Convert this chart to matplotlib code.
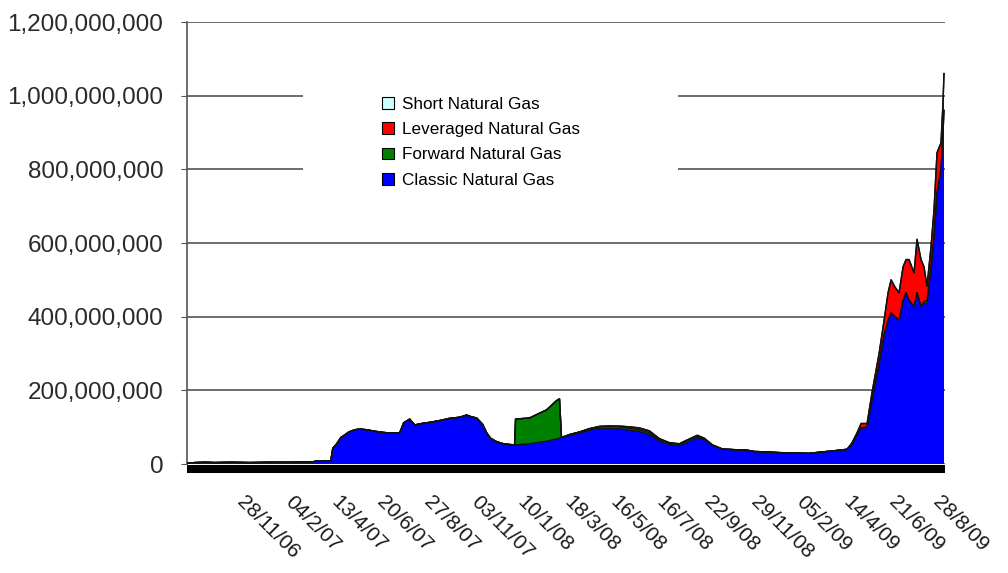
import numpy as np
import matplotlib
matplotlib.use("Agg")
import matplotlib.pyplot as plt
from matplotlib.patches import Rectangle
from matplotlib.ticker import FuncFormatter

plt.rcParams["font.family"] = ["Liberation Sans", "DejaVu Sans"]

# trading-day index of each sample (0 = first day of the series)
day = [0, 8, 18, 28, 43, 63, 83, 103, 113, 126, 131, 144, 146, 150, 154, 158,
       162, 168, 173, 180, 186, 193, 203, 213, 217, 223, 228, 235, 245, 253,
       263, 273, 280, 285, 290, 296, 300, 304, 309, 315, 323, 328, 329, 343,
       360, 370, 373, 375, 383, 393, 403, 413, 423, 433, 443, 453, 463, 473,
       483, 493, 503, 511, 518, 526, 536, 548, 560, 568, 580, 593, 608, 623,
       633, 648, 661, 666, 671, 675, 681, 686, 693, 698, 702, 705, 709, 713,
       717, 720, 723, 728, 731, 735, 738, 741, 745, 748, 751, 755, 757, 758]

# assets under management, millions
classic = [2, 4, 5, 4, 5, 4, 5, 5, 6, 6, 9, 9, 43, 55, 72, 79,
           87, 93, 95, 93, 90, 87, 84, 85, 112, 122, 106, 110, 114, 118,
           124, 127, 133, 128, 125, 108, 85, 70, 62, 56, 53, 52, 52, 55,
           62, 68, 70, 72, 78, 84, 92, 97, 97, 96, 92, 88, 80, 62,
           53, 50, 62, 72, 66, 50, 40, 39, 38, 34, 33, 31, 30, 29,
           32, 36, 40, 55, 80, 98, 100, 175, 270, 350, 390, 410, 400, 390,
           445, 465, 445, 427, 465, 427, 437, 435, 535, 617, 736, 800, 900, 960]
forward = [0, 0, 0, 0, 0, 0, 0, 0, 0, 0, 0, 0, 0, 0, 0, 0,
           0, 0, 0, 0, 0, 0, 0, 0, 0, 0, 0, 0, 0, 0,
           0, 0, 0, 0, 0, 0, 0, 0, 0, 0, 0, 0, 70, 70,
           85, 104, 107, 0, 2, 3, 4, 5, 6, 5, 5, 5, 5, 4,
           3, 4, 5, 5, 3, 2, 1, 0, 0, 0, 0, 0, 0, 0,
           0, 0, 0, 0, 0, 0, 0, 0, 0, 0, 0, 0, 0, 0,
           0, 0, 0, 0, 0, 0, 5, 8, 0, 0, 0, 0, 0, 0]
leveraged = [0, 0, 0, 0, 0, 0, 0, 0, 0, 0, 0, 0, 0, 0, 0, 0,
             0, 0, 0, 0, 0, 0, 0, 0, 0, 0, 0, 0, 0, 0,
             0, 0, 0, 0, 0, 0, 0, 0, 0, 0, 0, 0, 0, 0,
             0, 0, 0, 0, 0, 0, 0, 0, 0, 2, 4, 5, 5, 3,
             2, 1, 1, 1, 1, 0, 0, 0, 0, 0, 0, 0, 0, 0,
             0, 0, 0, 3, 5, 12, 10, 20, 30, 40, 75, 90, 80, 75,
             90, 90, 110, 92, 145, 128, 93, 40, 55, 73, 109, 72, 81, 100]
short = [0] * len(day)

label_days = [60, 108, 154, 200, 247, 294, 340, 387, 434, 480, 527, 574,
              620, 667, 713, 757]
labels = ["28/11/06", "04/2/07", "13/4/07", "20/6/07", "27/8/07", "03/11/07",
          "10/1/08", "18/3/08", "16/5/08", "16/7/08", "22/9/08", "29/11/08",
          "05/2/09", "14/4/09", "21/6/09", "28/8/09"]

series = [("Classic Natural Gas", classic, "#0000ff"),
          ("Forward Natural Gas", forward, "#008000"),
          ("Leveraged Natural Gas", leveraged, "#ff0000"),
          ("Short Natural Gas", short, "#ccffff")]

fig = plt.figure(figsize=(10.08, 5.73), dpi=100)
ax = fig.add_axes([0.1855, 0.1902, 0.752, 0.7714])

x = np.array(day)
base = np.zeros(len(day))
handles = []
for name, vals, col in series:
    top = base + np.array(vals)
    h = ax.fill_between(x, base, top, facecolor=col, edgecolor="none",
                        zorder=3, label=name)
    ax.plot(x, top, color="#111111", lw=1.0, zorder=4)
    handles.append(h)
    base = top

ax.set_xlim(0, 759)
ax.set_ylim(0, 1200)
ax.set_yticks(np.arange(0, 1201, 200))
ax.yaxis.set_major_formatter(FuncFormatter(lambda v, p: f"{v * 1e6:,.0f}"))
ax.grid(axis="y", color="#444444", lw=1.1, zorder=0)
ax.set_axisbelow(True)

# white box behind the legend hides the gridlines there
ax.add_patch(Rectangle((0.153, 0.61), 0.495, 0.25, transform=ax.transAxes,
                       facecolor="white", edgecolor="none", zorder=2))

for s in ["top", "right"]:
    ax.spines[s].set_visible(False)
ax.spines["left"].set_color("#555555")
ax.spines["left"].set_linewidth(1.2)
ax.spines["bottom"].set_linewidth(5.8)
ax.spines["bottom"].set_position(("outward", 3.5))
ax.spines["bottom"].set_color("black")
ax.spines["bottom"].set_capstyle("butt")

ax.tick_params(axis="y", length=4, pad=13, labelsize=17.5,
               labelcolor="#2a2a2a", color="#555555")
ax.set_xticks(label_days)
ax.set_xticklabels(labels, rotation=-45, ha="left", va="top",
                   rotation_mode="anchor", fontsize=15, color="#1a1a1a")
ax.tick_params(axis="x", length=0, pad=17)

leg = fig.legend(handles[::-1], [s[0] for s in series][::-1],
                 loc="upper left", bbox_to_anchor=(382 / 1008, 1 - 97 / 573),
                 frameon=False, fontsize=12.3, handlelength=0.7,
                 handleheight=0.7, handletextpad=0.5, labelspacing=0.6,
                 borderpad=0, borderaxespad=0)
for h in leg.legend_handles:
    h.set_edgecolor("black")
    h.set_linewidth(0.8)

fig.savefig("out.png", dpi=100)
